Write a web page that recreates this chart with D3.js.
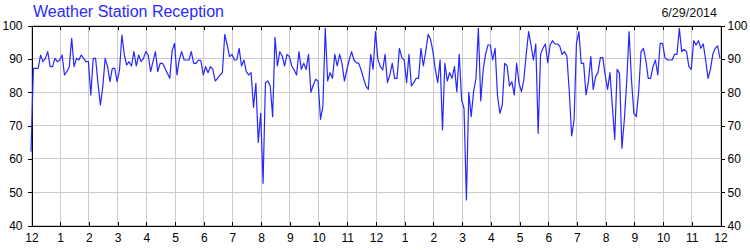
<html lang="en">
  <head>
    <meta charset="utf-8">
    <title>Weather Station Reception</title>
    <script src="https://d3js.org/d3.v7.min.js"></script>
    <style>
      body { margin: 0; background: #fff; }
      text { font-family: "Liberation Sans", Arial, sans-serif; }
      .grid line { stroke: #cccccc; shape-rendering: crispEdges; }
      .axis path, .axis line { stroke: #000; shape-rendering: crispEdges; }
      .axis text { font-size: 12px; fill: #000; }
    </style>
  </head>
  <body>
    <script>
    var title = "Weather Station Reception";
    var dateLabel = "6/29/2014";
    var stepMinutes = 5; // one reading every 5 minutes

    // reception % from midnight to midnight
    var reception = [
      62, 87, 87, 87, 91, 89, 90, 92, 87.5, 87.5, 90, 89,
      89.5, 91, 85, 86, 87.5, 96, 87.5, 90, 89.5, 91, 90, 89,
      89, 79, 90, 90, 82.5, 76, 81.5, 90, 87.5, 83, 87, 87,
      83, 86.5, 97, 91, 88, 89, 87.7, 92, 87.7, 91, 89, 90,
      92, 91, 86, 89, 92, 86, 88.5, 88.5, 87, 85.5, 84, 92.3,
      94.5, 85, 89.7, 92, 89.5, 89.5, 89.5, 92, 88.5, 88.5, 89.5, 89.3,
      85, 87.5, 85.7, 87.5, 86.7, 83.2, 84, 85, 85.7, 97.2, 94, 90.5,
      91.2, 89.5, 89.5, 93, 87.7, 89.5, 86, 85, 85.7, 75.3, 82.5, 64.8,
      73.5, 52.5, 82.7, 83.2, 81.7, 72.5, 96.3, 87.7, 92, 90.7, 87.7, 91.2,
      90.5, 87.7, 86.5, 85, 92, 86.7, 88.5, 86.7, 91.2, 79.8, 82, 83.7,
      83.2, 71.7, 75.5, 99, 83.2, 85.7, 84, 91.2, 87.7, 91.2, 88.5, 83.2,
      86.5, 89.5, 92, 89.5, 88.7, 88.5, 86.5, 84, 81.7, 80.7, 91.2, 86.7,
      98, 89.7, 87.5, 86.5, 91.2, 82.7, 85, 88.5, 84, 84, 93, 90.2,
      89.5, 82.7, 91.2, 81.7, 82.7, 84, 84, 93, 87.7, 92, 97.2, 95.7,
      92, 86.7, 82.7, 89.5, 68.5, 88.5, 83.2, 85.7, 84, 87.5, 80, 91.2,
      77.5, 75, 47.5, 79.8, 72.5, 80, 84, 99, 77.2, 86.5, 91.2, 94,
      94, 89.5, 93, 78.7, 73.5, 76, 88.5, 87.7, 81.7, 83, 79, 88.5,
      82.5, 80, 83.5, 91.2, 98, 94, 89.5, 94.3, 67.5, 91.2, 93, 94.3,
      88.7, 94, 95.3, 94.3, 94.3, 93.7, 91.2, 92, 90.7, 80, 66.7, 71.5,
      94.5, 98, 88.5, 88.5, 79, 83, 90.5, 80.7, 84.5, 85.7, 90.2, 90.2,
      85, 80.7, 85.7, 75.7, 65.7, 86.7, 85.5, 63, 71.5, 83, 98, 83.5,
      73.5, 72.5, 80, 92, 93, 89.5, 84, 84, 87.5, 89.5, 85, 94.5,
      94.5, 90.2, 89.5, 89.5, 89.5, 91.2, 91.2, 99, 92, 92.7, 92, 87.5,
      86.7, 95.3, 94, 95.3, 93, 94.3, 89.5, 84, 86.7, 91.2, 93, 93.7,
      90
    ];

    var yTicks = [40, 50, 60, 70, 80, 90, 100];
    var hourTicks = d3.range(0, 25);
    var hourLabels = ["12", "1", "2", "3", "4", "5", "6", "7", "8", "9", "10", "11",
                      "12", "1", "2", "3", "4", "5", "6", "7", "8", "9", "10", "11", "12"];

    var W = 750, H = 250;
    var plotL = 31, plotR = 720, plotT = 25, plotB = 225;

    var svg = d3.select("body").append("svg")
      .attr("width", W)
      .attr("height", H);

    var x = d3.scaleLinear().domain([0, 24 * 60]).range([plotL, plotR]);
    var y = d3.scaleLinear().domain([40, 100]).range([plotB, plotT]);

    var g = svg.append("g").attr("transform", "translate(0.5,0.5)");

    // grid
    var grid = g.append("g").attr("class", "grid");
    grid.selectAll(".vg")
      .data(hourTicks)
      .enter().append("line")
      .attr("x1", function(h) { return Math.round(x(h * 60)); })
      .attr("x2", function(h) { return Math.round(x(h * 60)); })
      .attr("y1", plotT)
      .attr("y2", plotB);
    grid.selectAll(".hg")
      .data(yTicks)
      .enter().append("line")
      .attr("x1", plotL)
      .attr("x2", plotR)
      .attr("y1", function(d) { return Math.round(y(d)); })
      .attr("y2", function(d) { return Math.round(y(d)); });

    // the line
    var line = d3.line()
      .x(function(d, i) { return x(i * stepMinutes); })
      .y(function(d) { return y(d); });

    svg.append("path")
      .datum(reception)
      .attr("d", line)
      .attr("fill", "none")
      .attr("stroke", "#2626ff")
      .attr("stroke-width", 1.2)
      .attr("stroke-linejoin", "round");

    // axes
    var hourVals = hourTicks.map(function(h) { return h * 60; });

    g.append("g")
      .attr("class", "axis")
      .attr("transform", "translate(0," + plotB + ")")
      .call(d3.axisBottom(x).tickValues(hourVals)
        .tickFormat(function(d, i) { return hourLabels[i]; })
        .tickSizeInner(-4).tickSizeOuter(0).tickPadding(8));

    g.append("g")
      .attr("class", "axis")
      .attr("transform", "translate(0," + plotT + ")")
      .call(d3.axisTop(x).tickValues(hourVals).tickFormat("")
        .tickSizeInner(-4).tickSizeOuter(0));

    g.append("g")
      .attr("class", "axis")
      .attr("transform", "translate(" + plotL + ",0)")
      .call(d3.axisLeft(y).tickValues(yTicks)
        .tickSizeInner(4).tickSizeOuter(0).tickPadding(5));

    g.append("g")
      .attr("class", "axis")
      .attr("transform", "translate(" + plotR + ",0)")
      .call(d3.axisRight(y).tickValues(yTicks)
        .tickSizeInner(4).tickSizeOuter(0).tickPadding(3));

    g.selectAll(".axis").attr("font-family", null).attr("font-size", null);

    // titles
    svg.append("text")
      .attr("x", 33)
      .attr("y", 17)
      .attr("font-size", "16px")
      .attr("fill", "#2a2aff")
      .text(title);

    svg.append("text")
      .attr("x", 717)
      .attr("y", 17)
      .attr("font-size", "12.5px")
      .attr("fill", "#111")
      .style("text-anchor", "end")
      .text(dateLabel);
    </script>
  </body>
</html>
